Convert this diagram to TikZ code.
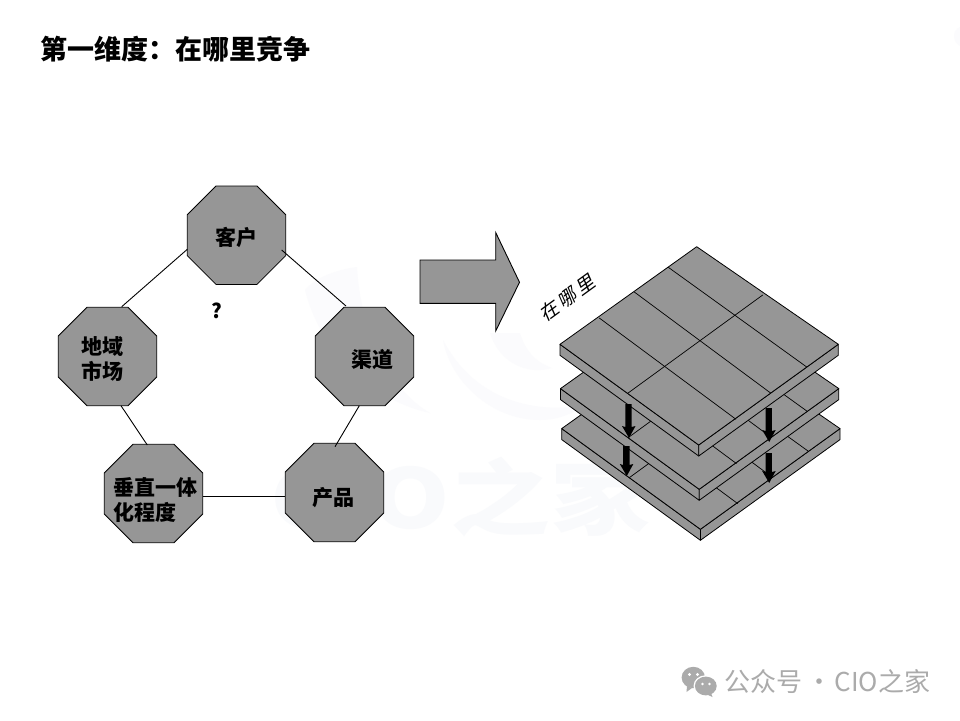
\documentclass[tikz,border=0pt]{standalone}
\usepackage{fontspec}
\setmainfont{Noto Sans CJK SC}
\newfontfamily\cjk{Noto Sans CJK SC}
\newfontfamily\cjkslant[FakeSlant=0.22]{Noto Sans CJK SC}
\definecolor{shade}{HTML}{969696}
\definecolor{wm}{HTML}{F9FAFC}
\definecolor{wmsoft}{HTML}{FBFBFD}
\definecolor{foot}{HTML}{ABABAB}
\tikzset{
  octa/.style={rectangle,minimum width=98.4pt,minimum height=98.4pt,inner sep=0pt,outer sep=0pt},
  octaface/.style={draw=black,line width=0.8pt,fill=shade,line join=miter},
  lbl/.style={font=\cjk\fontsize{21}{25}\selectfont\bfseries,align=left,inner sep=0pt,anchor=center,text=black},
  link/.style={line width=0.9pt,draw=black},
  slabface/.style={draw=black,line width=0.8pt,fill=shade,line join=round},
  gridln/.style={draw=black,line width=0.7pt},
  downarrow/.style={fill=black,draw=none}
}
\newcommand{\octagon}[3]{%
  \node[octa] (#1) at (#2,#3) {};
  \path[octaface] ([shift={(-20.5,-49.2)}]#1.center) -- ([shift={(20.5,-49.2)}]#1.center)
    -- ([shift={(49.2,-20.5)}]#1.center) -- ([shift={(49.2,20.5)}]#1.center)
    -- ([shift={(20.5,49.2)}]#1.center) -- ([shift={(-20.5,49.2)}]#1.center)
    -- ([shift={(-49.2,20.5)}]#1.center) -- ([shift={(-49.2,-20.5)}]#1.center) -- cycle;}
\newcommand{\slab}[2]{%
  \begin{scope}[shift={(#1,#2)}]
    \path[slabface] (560,344.3) -- (698.7,445) -- (698.7,456) -- (560,355.3) -- cycle;
    \path[slabface] (698.7,445) -- (838.3,344.3) -- (838.3,355.3) -- (698.7,456) -- cycle;
    \path[slabface] (696.7,246.7) -- (838.3,344.3) -- (698.7,445) -- (560,344.3) -- cycle;
    \draw[gridln] (668.3,267.3) -- (806.7,367);
    \draw[gridln] (634.3,292) -- (771,393.3);
    \draw[gridln] (599.3,318) -- (736,419.3);
    \draw[gridln] (762.7,295) -- (627.7,393.3);
  \end{scope}}
\newcommand{\pushdown}[3]{%
  \path[downarrow] (#1-3.2,#2) -- (#1+3.2,#2) -- (#1+3.2,#3-11) -- (#1+7,#3-12) -- (#1+0.5,#3) -- (#1-6.5,#3-12) -- (#1-3.2,#3-11) -- cycle;}
\begin{document}
\begin{tikzpicture}[x=1pt,y=-1pt]
\useasboundingbox (0,0) rectangle (960,720);
\fill[white] (0,0) rectangle (960,720);
% faint watermark
\fill[wmsoft] (305,290) .. controls (320,350) and (370,400) .. (430,413) .. controls (390,390) and (360,330) .. (357,267) .. controls (335,270) and (315,278) .. (305,290) -- cycle;
\fill[wmsoft] (490,333) .. controls (500,365) and (530,375) .. (552,368) .. controls (535,362) and (525,350) .. (520,333) -- cycle;
\fill[wmsoft] (443,340) .. controls (450,380) and (490,420) .. (540,420) .. controls (560,420) and (575,412) .. (585,405) .. controls (550,412) and (480,410) .. (443,340) -- cycle;
\fill[wmsoft] (960,27) .. controls (952,30) and (952,42) .. (960,46) -- cycle;
\node[text=wm,font=\cjk\fontsize{100}{100}\selectfont\bfseries,inner sep=0pt,anchor=west,yscale=0.82] (mark) at (270,497) {CIO之家};
% octagons
\octagon{kehu}{236.5}{235.2}
\octagon{diyu}{107.5}{356.5}
\octagon{qudao}{364.5}{356.5}
\octagon{chuizhi}{153.5}{493.5}
\octagon{chanpin}{334.5}{492.5}
% connectors
\draw[link] ([shift={(-49.2,14.1)}]kehu.center) -- ([shift={(14.2,-49.8)}]diyu.center);
\draw[link] ([shift={(45.2,14.8)}]kehu.center) -- ([shift={(-18.5,-50.5)}]qudao.center);
\draw[link] ([shift={(13.5,49.2)}]diyu.center) -- ([shift={(-6.2,-48.5)}]chuizhi.center);
\draw[link] ([shift={(-5.2,49.2)}]qudao.center) -- ([shift={(0.5,-45.8)}]chanpin.center);
\draw[link] ([shift={(49.2,2.8)}]chuizhi.center) -- ([shift={(-49.2,3.8)}]chanpin.center);
% labels
\node[lbl] (t1) at (236,237) {客户};
\node[lbl] (t2) at (102,358.5) {地域\\市场};
\node[lbl] (t3) at (372,360) {渠道};
\node[lbl] (t4) at (155,499.5) {垂直一体\\化程度};
\node[lbl] (t5) at (333.5,498) {产品};
\node[font=\cjk\fontsize{20}{24}\selectfont\bfseries,inner sep=0pt] (q) at (217,311) {?};
% title
\node[font=\cjk\fontsize{27}{32}\selectfont\bfseries,inner sep=0pt,anchor=west] (title) at (40,49) {第一维度\symbol{"FF1A}在哪里竞争};
% big arrow
\path[fill=shade,draw=black,line width=0.9pt,line join=miter] (420,260) -- (495.7,260) -- (495.7,232.5) -- (519.5,282.3) -- (495.7,331) -- (495.7,303.3) -- (420,303.3) -- cycle;
% rotated text
\node[rotate=36,font=\cjkslant\fontsize{19}{20}\selectfont,inner sep=0pt] (where) at (566.7,298.3) {在\hspace{3pt}哪\hspace{3pt}里};
% slabs
\slab{1.7}{84.3}
\slab{0.5}{44.3}
\slab{0}{0}
\pushdown{628.5}{404}{438}
\pushdown{626.3}{446}{476}
\pushdown{768.7}{408}{442}
\pushdown{768.7}{453}{483}
% footer icon
\fill[foot] (693.3,677.5) ellipse [x radius=11.7,y radius=10.7];
\fill[foot] (687,686) -- (686.5,692) -- (692,688) -- cycle;
\fill[white] (705.8,686) ellipse [x radius=12.3,y radius=10.8];
\fill[foot] (705.8,686) ellipse [x radius=10.9,y radius=9.4];
\fill[foot] (711,693) -- (712.5,697) -- (707,694.5) -- cycle;
\fill[white] (689.5,674.5) circle (1.6) (697.5,674.5) circle (1.6) (702.5,684) circle (1.4) (709.5,684) circle (1.4);
\node[text=foot,font=\cjk\fontsize{26}{30}\selectfont,inner sep=0pt,anchor=west] (footer) at (724.5,682) {公众号\hspace{3.5pt}·\hspace{2.5pt}CIO之家};
\end{tikzpicture}
\end{document}
